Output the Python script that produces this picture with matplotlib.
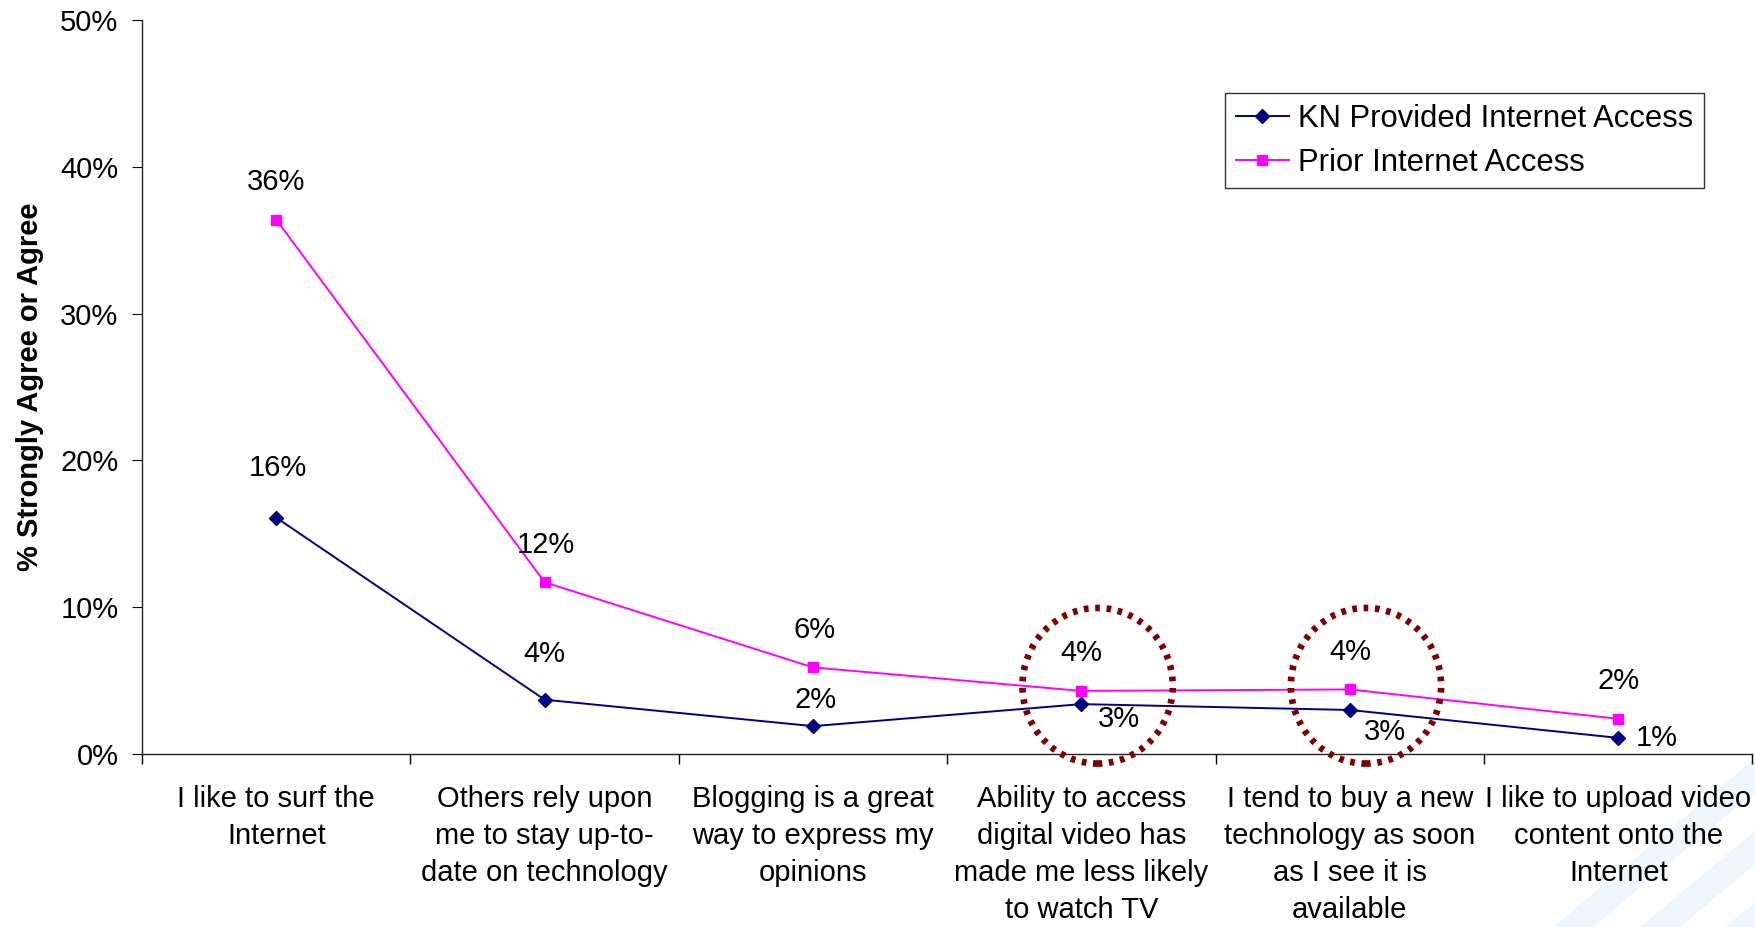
import matplotlib
matplotlib.use("Agg")
import matplotlib.pyplot as plt
from matplotlib.patches import Ellipse, Polygon
from matplotlib.ticker import FixedLocator, PercentFormatter

plt.rcParams['font.family'] = ['Liberation Sans', 'DejaVu Sans']

categories = [
    "I like to surf the\nInternet",
    "Others rely upon\nme to stay up-to-\ndate on technology",
    "Blogging is a great\nway to express my\nopinions",
    "Ability to access\ndigital video has\nmade me less likely\nto watch TV",
    "I tend to buy a new\ntechnology as soon\nas I see it is\navailable",
    "I like to upload video\ncontent onto the\nInternet",
]
kn_provided = [16.1, 3.7, 1.9, 3.4, 3.0, 1.1]
prior_access = [36.4, 11.7, 5.9, 4.3, 4.4, 2.4]
circled = [3, 4]   # categories highlighted with a dotted ring

# label offsets (points) from each marker
kn_offsets = [(1, 36), (0, 33), (2, 19), (27, -11), (25, -16), (28, 0)]
prior_offsets = [(0, 27), (1, 27), (1, 27), (0, 27), (0, 27), (0, 27)]

fig = plt.figure(figsize=(17.56, 9.27), dpi=100)

# faint diagonal stripes in the lower right corner
for x0 in [1553, 1640, 1725]:
    w = 40
    pts = [(x0, 0), (x0 + w, 0), (x0 + w + 240, 200), (x0 + 240, 200)]
    fig.patches.append(Polygon([(x / 1756, y / 927) for x, y in pts],
                               closed=True, transform=fig.transFigure,
                               facecolor='#eef5fd', edgecolor='none', zorder=-5))

ax = fig.add_axes([0.0809, 0.1866, 0.9171, 0.7918])
ax.set_zorder(1)
ax.patch.set_alpha(0)
x = list(range(len(categories)))

ax.plot(x, kn_provided, color='#000080', lw=1.4, marker='D', ms=7,
        label='KN Provided Internet Access', zorder=4)
ax.plot(x, prior_access, color='#FF00FF', lw=1.4, marker='s', ms=7.5,
        label='Prior Internet Access', zorder=3)

for xi, v, off in zip(x, kn_provided, kn_offsets):
    ax.annotate(f"{v:.0f}%", (xi, v), xytext=off, textcoords='offset points',
                ha='center', va='center', fontsize=21)
for xi, v, off in zip(x, prior_access, prior_offsets):
    ax.annotate(f"{v:.0f}%", (xi, v), xytext=off, textcoords='offset points',
                ha='center', va='center', fontsize=21)

for c in circled:
    ring = Ellipse((c + 0.06, 4.65), 0.56, 10.6, fill=False,
                   edgecolor='#800000', lw=4.8, linestyle=(0, (0.7, 1.0)),
                   clip_on=False, zorder=5)
    ax.add_patch(ring)

ax.set_xlim(-0.5, len(categories) - 0.5)
ax.set_ylim(0, 50)
ax.set_yticks(range(0, 51, 10))
ax.yaxis.set_major_formatter(PercentFormatter(decimals=0))
ax.set_xticks(x)
ax.set_xticklabels(categories, fontsize=21, linespacing=1.42, va='top')
ax.xaxis.set_minor_locator(FixedLocator([i - 0.5 for i in range(len(categories) + 1)]))
ax.tick_params(axis='x', which='major', length=0, pad=22)
ax.tick_params(axis='x', which='minor', length=7, direction='out', width=1)
ax.tick_params(axis='y', length=7, direction='out', labelsize=21, pad=10)

for side in ['top', 'right']:
    ax.spines[side].set_visible(False)
for side in ['left', 'bottom']:
    ax.spines[side].set_color('#222222')
    ax.spines[side].set_linewidth(1)

ax.set_ylabel('% Strongly Agree or Agree', fontsize=21, fontweight='bold', labelpad=12)

leg = ax.legend(loc='upper right', bbox_to_anchor=(0.9795, 0.922), fontsize=22.3,
                frameon=True, fancybox=False, edgecolor='black', handlelength=1.7,
                borderpad=0.35, labelspacing=0.45, handletextpad=0.3)
leg.get_frame().set_linewidth(1)

fig.savefig('out.png', dpi=100)
